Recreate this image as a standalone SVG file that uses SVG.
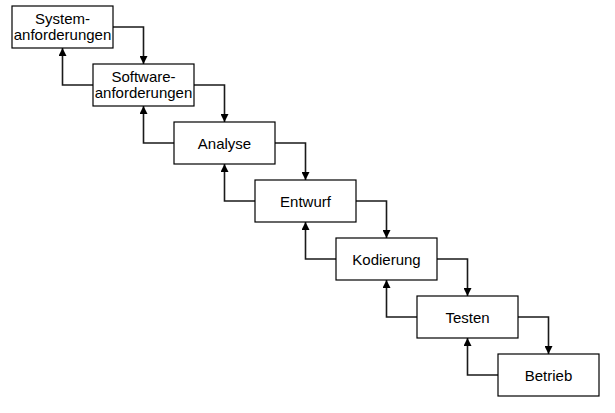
<svg xmlns="http://www.w3.org/2000/svg" width="615" height="413" viewBox="0 0 615 413">
<style>
.box{fill:#fff;stroke:#000;stroke-width:1.2}
.t{font-family:"Liberation Sans",Arial,sans-serif;font-size:15px;fill:#000;text-anchor:middle}
.c{fill:none;stroke:#1a1a1a;stroke-width:1.6}
</style>
<defs>
<marker id="ah" viewBox="0 0 10 10" refX="10" refY="5" markerWidth="8" markerHeight="8" markerUnits="userSpaceOnUse" orient="auto">
<path d="M0,0 L10,5 L0,10 z" fill="#000"/>
</marker>
</defs>
<rect width="615" height="413" fill="#fff"/>
<g id="connectors">
<path class="c" marker-end="url(#ah)" d="M112,27 H143.5 V64"/>
<path class="c" marker-end="url(#ah)" d="M193,85 H224.5 V122"/>
<path class="c" marker-end="url(#ah)" d="M275,143 H305.5 V180"/>
<path class="c" marker-end="url(#ah)" d="M356,201 H386.5 V238"/>
<path class="c" marker-end="url(#ah)" d="M437,259 H467.5 V296"/>
<path class="c" marker-end="url(#ah)" d="M518,317 H548.5 V354"/>
<path class="c" marker-end="url(#ah)" d="M93,85 H62.5 V48"/>
<path class="c" marker-end="url(#ah)" d="M174,143 H143.5 V106"/>
<path class="c" marker-end="url(#ah)" d="M255,201 H224.5 V164"/>
<path class="c" marker-end="url(#ah)" d="M336,259 H305.5 V222"/>
<path class="c" marker-end="url(#ah)" d="M417,317 H386.5 V280"/>
<path class="c" marker-end="url(#ah)" d="M498,375 H467.5 V338"/>
</g>
<g id="n1"><rect class="box" x="12" y="6" width="101" height="42"/><text class="t" x="62.5" y="24">System-</text><text class="t" x="62.5" y="40">anforderungen</text></g>
<g id="n2"><rect class="box" x="93" y="64" width="101" height="42"/><text class="t" x="143.5" y="82">Software-</text><text class="t" x="143.5" y="98">anforderungen</text></g>
<g id="n3"><rect class="box" x="174" y="122" width="101" height="42"/><text class="t" x="224.5" y="149">Analyse</text></g>
<g id="n4"><rect class="box" x="255" y="180" width="101" height="42"/><text class="t" x="305.5" y="207">Entwurf</text></g>
<g id="n5"><rect class="box" x="336" y="238" width="101" height="42"/><text class="t" x="386.5" y="265">Kodierung</text></g>
<g id="n6"><rect class="box" x="417" y="296" width="101" height="42"/><text class="t" x="467.5" y="323">Testen</text></g>
<g id="n7"><rect class="box" x="498" y="354" width="101" height="42"/><text class="t" x="548.5" y="381">Betrieb</text></g>
</svg>
